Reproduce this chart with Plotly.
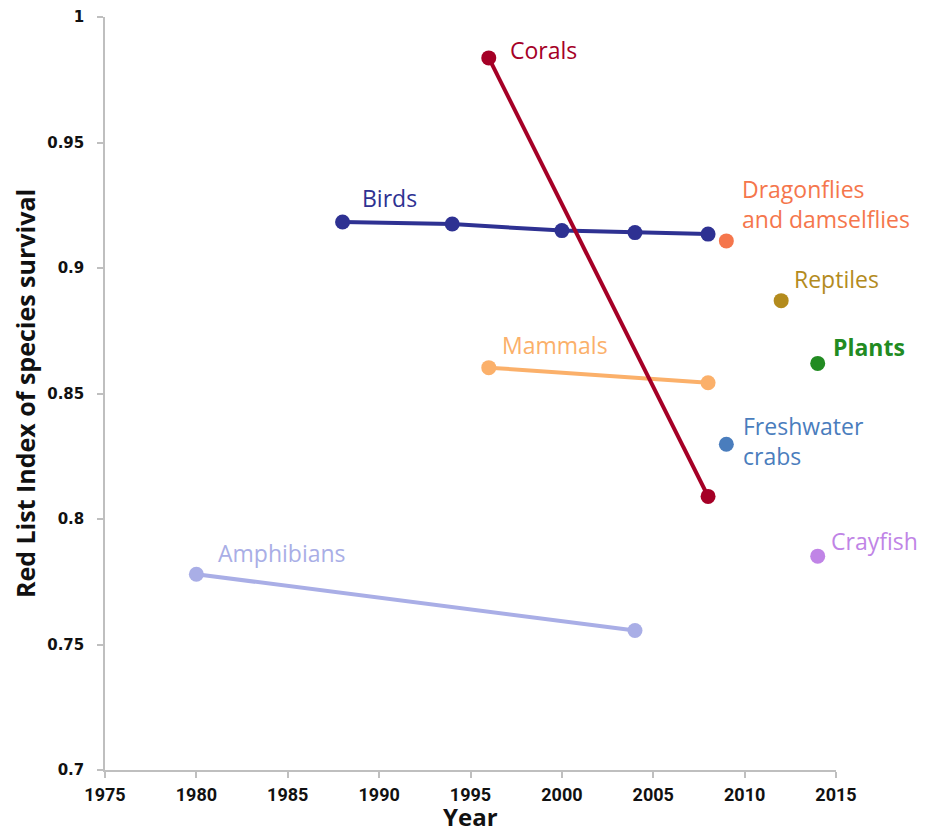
import plotly.graph_objects as go

# ---- data ----
birds_years = [1988, 1994, 2000, 2004, 2008]
birds_rli = [0.9183, 0.9175, 0.9149, 0.9141, 0.9135]

corals_years = [1996, 2008]
corals_rli = [0.9837, 0.8090]

mammals_years = [1996, 2008]
mammals_rli = [0.8603, 0.8543]

amphibians_years = [1980, 2004]
amphibians_rli = [0.7780, 0.7556]

dragonflies_years = [2009]
dragonflies_rli = [0.9108]

reptiles_years = [2012]
reptiles_rli = [0.8870]

plants_years = [2014]
plants_rli = [0.8620]

crabs_years = [2009]
crabs_rli = [0.8298]

crayfish_years = [2014]
crayfish_rli = [0.7852]

x_ticks = [1975, 1980, 1985, 1990, 1995, 2000, 2005, 2010, 2015]
y_ticks = [0.7, 0.75, 0.8, 0.85, 0.9, 0.95, 1.0]
y_tick_labels = ["0.7", "0.75", "0.8", "0.85", "0.9", "0.95", "1"]

series = [
    ("Amphibians", amphibians_years, amphibians_rli, "#a9aee6"),
    ("Mammals", mammals_years, mammals_rli, "#fbb06a"),
    ("Birds", birds_years, birds_rli, "#2e3192"),
    ("Corals", corals_years, corals_rli, "#a50026"),
    ("Dragonflies and damselflies", dragonflies_years, dragonflies_rli, "#f5764c"),
    ("Reptiles", reptiles_years, reptiles_rli, "#b38b1d"),
    ("Plants", plants_years, plants_rli, "#228b22"),
    ("Freshwater crabs", crabs_years, crabs_rli, "#4a7dbd"),
    ("Crayfish", crayfish_years, crayfish_rli, "#c084e6"),
]

fig = go.Figure()
for name, xs, ys, col in series:
    fig.add_trace(go.Scatter(
        x=xs, y=ys, name=name,
        mode="lines+markers" if len(xs) > 1 else "markers",
        line=dict(color=col, width=4),
        marker=dict(color=col, size=15),
        cliponaxis=False,
        showlegend=False,
    ))

label_font = "Open Sans, Lato, sans-serif"
labels = [
    ("Birds", 1988.95, 0.9279, "#2e3192", False),
    ("Corals", 1997.05, 0.9869, "#a50026", False),
    ("Dragonflies<br>and damselflies", 2009.75, 0.9255, "#f5764c", False),
    ("Reptiles", 2012.6, 0.8956, "#b38b1d", False),
    ("Plants", 2014.7, 0.8685, "#228b22", True),
    ("Freshwater<br>crabs", 2009.8, 0.8311, "#4a7dbd", False),
    ("Crayfish", 2014.6, 0.7912, "#c084e6", False),
    ("Mammals", 1996.6, 0.8693, "#fbb06a", False),
    ("Amphibians", 1981.1, 0.7865, "#a9aee6", False),
]
for text, x, y, col, bold in labels:
    fig.add_annotation(
        x=x, y=y, xref="x", yref="y", text=(f"<b>{text}</b>" if bold else text),
        showarrow=False, xanchor="left", yanchor="middle", align="left",
        font=dict(family=label_font, size=23, color=col),
    )

# x-axis title as an annotation so it can sit lower than the margin allows
fig.add_annotation(
    x=0.5, y=0, xref="paper", yref="paper", text="<b>Year</b>",
    showarrow=False, xanchor="center", yanchor="middle", yshift=-46,
    font=dict(family="Open Sans, sans-serif", size=24, color="#111111"),
)

# the page body has an 8px margin, so the figure is sized/offset to compensate
fig.update_layout(
    width=926, height=825,
    margin=dict(l=97, r=98, t=9, b=63),
    plot_bgcolor="white", paper_bgcolor="white",
    xaxis=dict(
        range=[1975, 2015], tickvals=x_ticks, ticktext=[str(v) for v in x_ticks],
        showgrid=False, zeroline=False, showline=True, linecolor="#bfbfbf", linewidth=1.5,
        ticks="outside", ticklen=6, tickcolor="#bfbfbf", tickwidth=1.5,
        tickfont=dict(family="Roboto, sans-serif", size=18, color="#111111", weight="bold"),
        ticklabelstandoff=2,
        automargin=False,
    ),
    yaxis=dict(
        range=[0.7, 1.0], tickvals=y_ticks, ticktext=y_tick_labels,
        showgrid=False, zeroline=False, showline=True, linecolor="#bfbfbf", linewidth=1.5,
        ticks="outside", ticklen=6, tickcolor="#bfbfbf", tickwidth=1.5,
        tickfont=dict(family="DejaVu Sans, Verdana, sans-serif", size=15, color="#111111", weight="bold"),
        ticklabelstandoff=10,
        automargin=False,
        title=dict(text="<b>Red List Index of species survival</b>", font=dict(family="Open Sans, sans-serif", size=25, color="#111111"), standoff=5),
    ),
)

fig.write_html("out.html")
